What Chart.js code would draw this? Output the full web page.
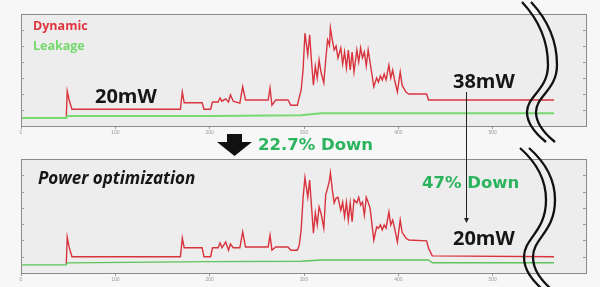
<!DOCTYPE html>
<html>
<head>
<meta charset="utf-8">
<script src="https://cdn.jsdelivr.net/npm/chart.js@4/dist/chart.umd.min.js"></script>
<style>
  body { margin: 0; background: #f7f7f7; }
  #wrap { position: relative; width: 600px; height: 287px; overflow: hidden; font-family: 'Open Sans', sans-serif; }
  canvas { position: absolute; left: 0; top: 0; }
  .lbl { position: absolute; white-space: nowrap; line-height: 1; font-weight: bold; }
  .green { font-family: 'DejaVu Sans', sans-serif; color: #2bb35e; font-size: 16.5px; }
  .big { font-size: 20px; color: #161616; }
</style>
</head>
<body>
<div id="wrap">
  <canvas id="topChart" width="600" height="287"></canvas>
  <canvas id="bottomChart" width="600" height="287"></canvas>
  <div class="lbl" style="left:33px;top:20px;font-size:12.5px;color:#e0353f">Dynamic</div>
  <div class="lbl" style="left:33px;top:40px;font-size:12.5px;color:#74d96c">Leakage</div>
  <div class="lbl big" style="left:95px;top:86px">20mW</div>
  <div class="lbl big" style="left:453px;top:71px">38mW</div>
  <div class="lbl green" style="left:258px;top:137px">22.7% Down</div>
  <div class="lbl" style="left:38px;top:169px;font-size:17px;font-style:italic;color:#161616">Power optimization</div>
  <div class="lbl green" style="left:422px;top:175px">47% Down</div>
  <div class="lbl big" style="left:453px;top:228px">20mW</div>
</div>
<script>
// sample positions shared by both panels
const time = [48, 49, 51, 54, 169, 171, 173, 192, 194, 201, 203, 209, 211, 213, 217, 220, 222, 225,
  232, 235, 238, 262, 264, 266, 270, 283, 286, 293, 295, 297, 299, 301, 304, 306, 308, 310,
  312, 314, 316, 318, 321, 323, 325, 327, 328, 330, 332, 334, 336, 339, 341, 343, 345, 347, 349,
  351, 353, 356, 358, 360, 362, 364, 366, 368, 370, 374, 377, 379, 381, 383, 385, 387,
  390, 392, 394, 396, 399, 402, 404, 408, 411, 430, 432, 436, 565];

// before optimization (mW)
const dynamicBefore = [11, 43.5, 32.5, 21, 21, 42.5, 29, 29, 21, 21, 30, 30, 35, 31, 34, 30, 39, 31,
  28.5, 49, 32.5, 32.5, 47.5, 26, 32.5, 32.5, 26, 26, 36, 45, 70, 116, 89, 114, 80, 51,
  75, 60, 82.5, 67.5, 54, 82.5, 107.5, 101, 122.5, 107.5, 95, 100, 85, 97.5, 77.5, 92.5, 72.5, 95, 70,
  92.5, 67.5, 95, 80, 97.5, 85, 92.5, 75, 95, 80, 49, 60, 55, 62.5, 57.5, 65, 57.5,
  76, 60, 70, 57.5, 42.5, 67.5, 51, 42.5, 40, 40, 32.5, 32.5, 32.5];

// after optimization (mW)
const dynamicAfter = [11, 44, 32, 20, 20, 43, 31, 31, 20, 20, 31, 31, 37, 31, 38, 28, 35.5, 31,
  31, 50.5, 32, 32, 46.5, 28, 32, 32, 28, 28, 34.5, 53, 92, 117, 93, 114, 81, 49,
  73.5, 59, 81, 73.5, 55, 96, 104, 114, 123, 102, 86, 92, 93, 77, 87, 69, 87, 65, 86,
  63, 90, 86, 93, 83.5, 87, 71, 93, 87, 80, 40.5, 56.5, 55, 59, 53, 59, 55,
  75, 59, 65, 55, 38, 65, 50, 43, 40.5, 39.5, 30.5, 21, 20];

const leakTime = [0, 48, 49, 200, 297, 318, 432, 436, 565];
const leakBefore = [10, 10, 12.5, 12.5, 13.5, 16, 16, 16, 16];
const leakAfter = [10, 10, 12.5, 14, 14.5, 16, 16, 12.5, 12.5];

const xTicks = [0, 100, 200, 300, 400, 500];
const yTicks = [20, 40, 60, 80, 100, 120];

function pts(xs, ys) {
  return xs.map((x, i) => ({ x: x, y: ys[i] }));
}

const panelPlugin = {
  id: 'panel',
  beforeDatasetsDraw(chart) {
    const a = chart.chartArea, ctx = chart.ctx;
    ctx.save();
    ctx.fillStyle = '#ededed';
    ctx.fillRect(a.left, a.top, a.right - a.left, a.bottom - a.top);
    ctx.restore();
  },
  afterDatasetsDraw(chart) {
    const a = chart.chartArea, ctx = chart.ctx, y = chart.scales.y;
    ctx.save();
    ctx.strokeStyle = '#8a8a8a';
    ctx.lineWidth = 1;
    ctx.strokeRect(a.left + 0.5, a.top + 0.5, a.right - a.left - 1, a.bottom - a.top);
    ctx.strokeStyle = '#9a9a9a';
    yTicks.forEach(v => {
      const py = Math.round(y.getPixelForValue(v)) + 0.5;
      ctx.beginPath();
      ctx.moveTo(a.left, py); ctx.lineTo(a.left + 3, py);
      ctx.moveTo(a.right - 4, py); ctx.lineTo(a.right - 1, py);
      ctx.stroke();
    });
    ctx.restore();
  }
};

// break marks and arrows drawn over both panels
const decoPlugin = {
  id: 'deco',
  afterDraw(chart) {
    const ctx = chart.ctx;
    ctx.save();
    ctx.strokeStyle = '#111';
    ctx.lineWidth = 2.3;
    [0, 9].forEach(d => {
      ctx.beginPath();
      ctx.moveTo(522 + d, 2);
      ctx.bezierCurveTo(537 + d, 18, 548 + d, 38, 548 + d, 65);
      ctx.bezierCurveTo(548 + d, 90, 527 + d, 96, 527 + d, 112);
      ctx.bezierCurveTo(527 + d, 124, 536 + d, 134, 546 + d, 142);
      ctx.stroke();
      ctx.beginPath();
      ctx.moveTo(520 + d, 148);
      ctx.bezierCurveTo(536 + d, 162, 546 + d, 178, 546 + d, 200);
      ctx.bezierCurveTo(546 + d, 232, 524 + d, 238, 524 + d, 257);
      ctx.bezierCurveTo(524 + d, 270, 532 + d, 280, 543 + d, 290);
      ctx.stroke();
    });
    // thin arrow 38mW -> 20mW
    ctx.lineWidth = 1;
    ctx.strokeStyle = '#222';
    ctx.beginPath();
    ctx.moveTo(466.5, 92); ctx.lineTo(466.5, 219);
    ctx.stroke();
    ctx.fillStyle = '#222';
    ctx.beginPath();
    ctx.moveTo(464, 218); ctx.lineTo(469, 218); ctx.lineTo(466.5, 223);
    ctx.closePath(); ctx.fill();
    // block arrow
    ctx.fillStyle = '#111';
    ctx.fillRect(227, 134, 15, 8);
    ctx.beginPath();
    ctx.moveTo(217, 142); ctx.lineTo(252, 142); ctx.lineTo(234.5, 156);
    ctx.closePath(); ctx.fill();
    ctx.restore();
  }
};

function makeChart(id, dyn, leak, leakColor, leakWidth, padTop, padBottom, extra) {
  const ctx = document.getElementById(id).getContext('2d');
  return new Chart(ctx, {
    type: 'line',
    data: {
      datasets: [{
        label: 'Leakage',
        data: pts(leakTime, leak),
        borderColor: leakColor,
        borderWidth: leakWidth,
        pointRadius: 0,
        tension: 0,
        order: 0
      }, {
        label: 'Dynamic',
        data: pts(time, dyn),
        borderColor: '#d9343e',
        borderWidth: 1.4,
        pointRadius: 0,
        tension: 0,
        order: 1
      }]
    },
    options: {
      responsive: false,
      animation: false,
      devicePixelRatio: 1,
      layout: { padding: { top: padTop, bottom: padBottom, left: 0, right: 13 } },
      plugins: { legend: { display: false }, tooltip: { enabled: false } },
      scales: {
        x: {
          type: 'linear',
          min: 0,
          max: 600,
          afterBuildTicks: s => { s.ticks = xTicks.map(v => ({ value: v })); },
          ticks: { font: { size: 5 }, color: '#9a9a9a', padding: 1, maxRotation: 0 },
          grid: { drawOnChartArea: false, tickLength: 3, color: '#999' },
          border: { display: false },
          afterFit: s => { s.height = 10; }
        },
        y: {
          min: 0,
          max: 140,
          ticks: { display: false, stepSize: 20 },
          grid: { display: false },
          border: { display: false },
          afterFit: s => { s.width = 21; }
        }
      }
    },
    plugins: [panelPlugin].concat(extra)
  });
}

makeChart('topChart', dynamicBefore, leakBefore, '#78d870', 2, 14, 151, []);
makeChart('bottomChart', dynamicAfter, leakAfter, '#5fc45c', 1.4, 159, 4, [decoPlugin]);
</script>
</body>
</html>
